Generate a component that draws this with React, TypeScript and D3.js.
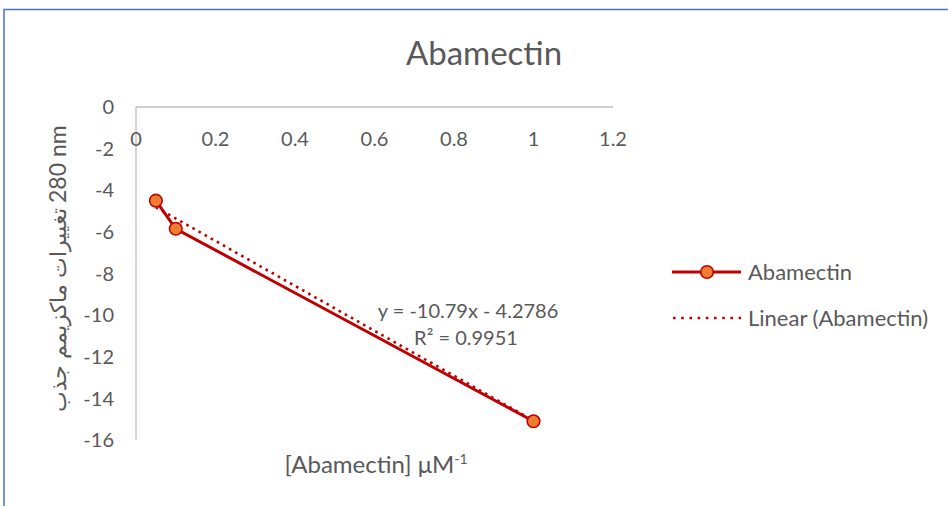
import React from "react";
import * as d3 from "d3";

const xValues = [0.05, 0.1, 1];
const yValues = [-4.5, -5.85, -15.1];
const trendSlope = -10.79;
const trendIntercept = -4.2786;
const xTicks = [0, 0.2, 0.4, 0.6, 0.8, 1, 1.2];
const yTicks = [0, -2, -4, -6, -8, -10, -12, -14, -16];
const title = "Abamectin";
const seriesName = "Abamectin";
const trendName = "Linear (Abamectin)";
const eqText = "y = -10.79x - 4.2786";
const r2Text = "R² = 0.9951";
const yTitleArabic = "تغييرات ماكزيمم جذب";
const yTitleLatin = "280 nm";

const W = 948;
const H = 506;
const FONT = "Lato, 'DejaVu Sans', sans-serif";
const TXT = "#595959";
const RED = "#C00000";
const ORANGE = "#ED7D31";

export default function App() {
  const x = d3.scaleLinear().domain([0, 1.2]).range([136, 613]);
  const y = d3.scaleLinear().domain([0, -16]).range([107, 440]);
  const pts = xValues.map((v, i) => [v, yValues[i]] as [number, number]);
  const line = d3
    .line<[number, number]>()
    .x((d) => x(d[0]))
    .y((d) => y(d[1]));
  const xmin = d3.min(xValues) as number;
  const xmax = d3.max(xValues) as number;
  const trend: [number, number][] = [
    [xmin, trendSlope * xmin + trendIntercept],
    [xmax, trendSlope * xmax + trendIntercept],
  ];
  const fmt = (v: number) => String(v);

  return (
    <div style={{ position: "fixed", left: 0, top: 0, width: W, height: H, background: "#fff" }}>
      <svg width={W} height={H} style={{ display: "block", fontFamily: FONT }}>
        <rect x={0} y={0} width={W} height={H} fill="#fff" />
        <path d="M4,506 L4,9.5 L948,9.5" fill="none" stroke="#4472C4" strokeWidth={1.5} />
        <text x={484} y={65} textAnchor="middle" fontSize={33} fill={TXT}>
          {title}
        </text>

        {/* axes */}
        <line x1={x(0)} x2={x(1.2)} y1={y(0)} y2={y(0)} stroke="#BFBFBF" strokeWidth={1.3} />
        <line x1={x(0)} x2={x(0)} y1={y(0)} y2={y(-16)} stroke="#BFBFBF" strokeWidth={1.3} />

        {xTicks.map((t) => (
          <text key={"x" + t} x={x(t)} y={146} textAnchor="middle" fontSize={20} fill={TXT}>
            {fmt(t)}
          </text>
        ))}
        {yTicks.map((t) => (
          <text key={"y" + t} x={114} y={y(t)} dy="0.36em" textAnchor="end" fontSize={20} fill={TXT}>
            {fmt(t)}
          </text>
        ))}

        {/* y title */}
        <g transform="translate(66,271) rotate(-90)">
          <text x={63} y={0} textAnchor="end" fontSize={22} fill={TXT} fontWeight={300}>
            {yTitleArabic}
          </text>
          <text x={68} y={0} textAnchor="start" fontSize={23} fill={TXT}>
            {yTitleLatin}
          </text>
        </g>

        {/* x title */}
        <text x={376} y={473} textAnchor="middle" fontSize={24} fill={TXT}>
          [Abamectin] μM
          <tspan dy={-9} fontSize={14}>-1</tspan>
        </text>

        {/* series */}
        <path d={line(pts) || ""} fill="none" stroke={RED} strokeWidth={3} />
        <path
          d={line(trend) || ""}
          fill="none"
          stroke={RED}
          strokeWidth={2.6}
          strokeDasharray="2.6 4.4"
        />
        {pts.map((p, i) => (
          <circle key={i} cx={x(p[0])} cy={y(p[1])} r={6.3} fill={ORANGE} stroke={RED} strokeWidth={1.6} />
        ))}

        {/* trend label */}
        <text x={468} y={318} textAnchor="middle" fontSize={20} fill={TXT}>
          {eqText}
        </text>
        <text x={466} y={345} textAnchor="middle" fontSize={20} fill={TXT}>
          {r2Text}
        </text>

        {/* legend */}
        <line x1={672} x2={741} y1={272} y2={272} stroke={RED} strokeWidth={3} />
        <circle cx={707} cy={272} r={6.3} fill={ORANGE} stroke={RED} strokeWidth={1.6} />
        <text x={748} y={280} fontSize={22} fill={TXT}>
          {seriesName}
        </text>
        <line x1={673} x2={741} y1={318} y2={318} stroke={RED} strokeWidth={2.6} strokeDasharray="2.6 5.6" />
        <text x={748} y={326} fontSize={22} fill={TXT}>
          {trendName}
        </text>
      </svg>
    </div>
  );
}
